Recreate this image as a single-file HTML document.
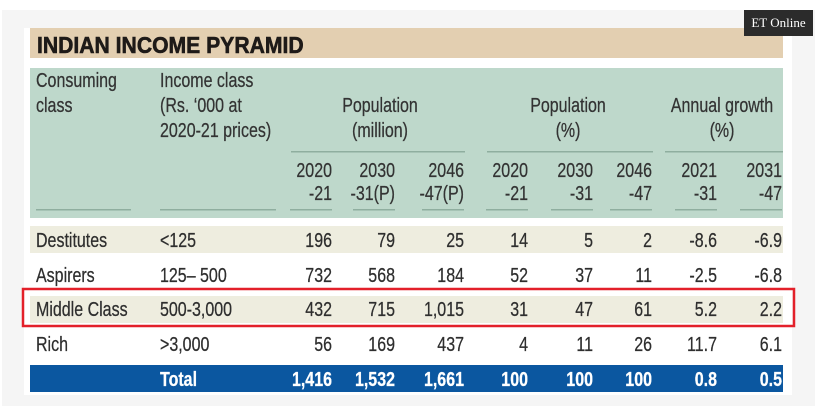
<!DOCTYPE html>
<html><head><meta charset="utf-8">
<style>
html,body{margin:0;padding:0;background:#fff;width:822px;height:412px;overflow:hidden}
#root{position:relative;width:822px;height:412px}
.badge{position:absolute;left:744px;top:10px;width:69px;height:26px;background:#2b2b2b;color:#fff;font:13px "Liberation Serif",serif;line-height:26px;text-align:center}
svg{position:absolute;left:0;top:0}
</style></head>
<body>
<div id="root">
<svg id="tbl" width="822" height="412">
<rect x="2" y="10" width="813" height="396" fill="#f5f5f5"/>
<rect x="24" y="28" width="768" height="367" fill="#ffffff"/>
<rect x="30" y="28" width="753" height="30" fill="#e3cfb1"/>
<text transform="translate(37,53) scale(0.92,1)" font-family="Liberation Sans, sans-serif" font-weight="bold" font-size="23" fill="#1e1a18" stroke="#1e1a18" stroke-width="0.6">INDIAN INCOME PYRAMID</text>
<rect x="30" y="68" width="753" height="150" fill="#bed8cb"/>
<rect x="30" y="365" width="753" height="27" fill="#0b57a0"/>
<g id="body"></g>
<rect x="23" y="289" width="771" height="37" fill="none" stroke="#e3202a" stroke-width="2.5"/>
</svg>
<div class="badge">ET Online</div>
</div>
<script>
const classes = ["Destitutes","Aspirers","Middle Class","Rich"];
const incomes = ["<125","125– 500","500-3,000",">3,000"];
const pop2020 = ["196","732","432","56"];
const pop2030 = ["79","568","715","169"];
const pop2046 = ["25","184","1,015","437"];
const pct2020 = ["14","52","31","4"];
const pct2030 = ["5","37","47","11"];
const pct2046 = ["2","11","61","26"];
const gr2021 = ["-8.6","-2.5","5.2","11.7"];
const gr2031 = ["-6.9","-6.8","2.2","6.1"];
const totals = ["1,416","1,532","1,661","100","100","100","0.8","0.5"];
const yearTop = ["2020","2030","2046","2020","2030","2046","2021","2031"];
const yearBot = ["-21","-31(P)","-47(P)","-21","-31","-47","-31","-47"];

const NS="http://www.w3.org/2000/svg";
const g=document.getElementById('body');
const colRight=[332,395,464,528,593,652,717,782];
const rowY=[247,282,316,351];
const SX=0.8;
function txt(s,x,y,anchor,fill,bold,name,size){
  const t=document.createElementNS(NS,'text');
  t.setAttribute('transform','translate('+x+','+y+') scale('+SX+',1)');
  t.setAttribute('text-anchor',anchor);
  t.setAttribute('font-family','Liberation Sans, sans-serif');
  t.setAttribute('font-size',size||20);
  if(bold)t.setAttribute('font-weight','bold');
  t.setAttribute('fill',fill);
  t.setAttribute('stroke',fill);
  t.setAttribute('stroke-width','0.25');
  t.textContent=s;
  
  
  g.appendChild(t);
}
function rect(x,y,w,h,fill,name){
  const r=document.createElementNS(NS,'rect');
  r.setAttribute('x',x);r.setAttribute('y',y);r.setAttribute('width',w);r.setAttribute('height',h);r.setAttribute('fill',fill);
  
  
  g.appendChild(r);
}
rect(30,226,753,27,'#eeeddf','destitutes-row-band');
rect(30,296,753,27,'#eeeddf','middle-class-row-band');
const hc='#333';
txt('Consuming',36,87,'start',hc,false,'header-consuming-class');
txt('class',36,112,'start',hc,false,'header-consuming-class');
txt('Income class',160,87,'start',hc,false,'header-income-class');
txt("(Rs. ‘000 at",160,112,'start',hc,false,'header-income-class');
txt('2020-21 prices)',160,137,'start',hc,false,'header-income-class');
txt('Population',380,112,'middle',hc,false,'header-population-million');
txt('(million)',380,137,'middle',hc,false,'header-population-million');
txt('Population',568,112,'middle',hc,false,'header-population-pct');
txt('(%)',568,137,'middle',hc,false,'header-population-pct');
txt('Annual growth',722,112,'middle',hc,false,'header-annual-growth');
txt('(%)',722,137,'middle',hc,false,'header-annual-growth');
rect(291,151,174,1.5,'#8fae9f','underline-population-million');
rect(487,151,166,1.5,'#8fae9f','underline-population-pct');
rect(665,151,118,1.5,'#8fae9f','underline-annual-growth');
for(let i=0;i<8;i++){
  txt(yearTop[i],colRight[i],177,'end',hc,false,'year-header');
  txt(yearBot[i],colRight[i],200,'end',hc,false,'year-header');
  rect(colRight[i]-42,209,42,1.5,'#8fae9f','year-underline');
}
rect(36,209,95,1.5,'#8fae9f','class-underline');
rect(160,209,116,1.5,'#8fae9f','income-underline');
const cols=[pop2020,pop2030,pop2046,pct2020,pct2030,pct2046,gr2021,gr2031];
const bc='#2e2e2e';
for(let r=0;r<classes.length;r++){
  txt(classes[r],36,rowY[r],'start',bc,false,'class-label');
  txt(incomes[r],160,rowY[r],'start',bc,false,'income-range');
  for(let c=0;c<cols.length;c++){
    txt(cols[c][r],colRight[c],rowY[r],'end',bc,false,'cell-value');
  }
}
txt('Total',160,386,'start','#fff',true,'total-label');
for(let c=0;c<totals.length;c++){
  txt(totals[c],colRight[c],386,'end','#fff',true,'total-value');
}
</script>
</body></html>
